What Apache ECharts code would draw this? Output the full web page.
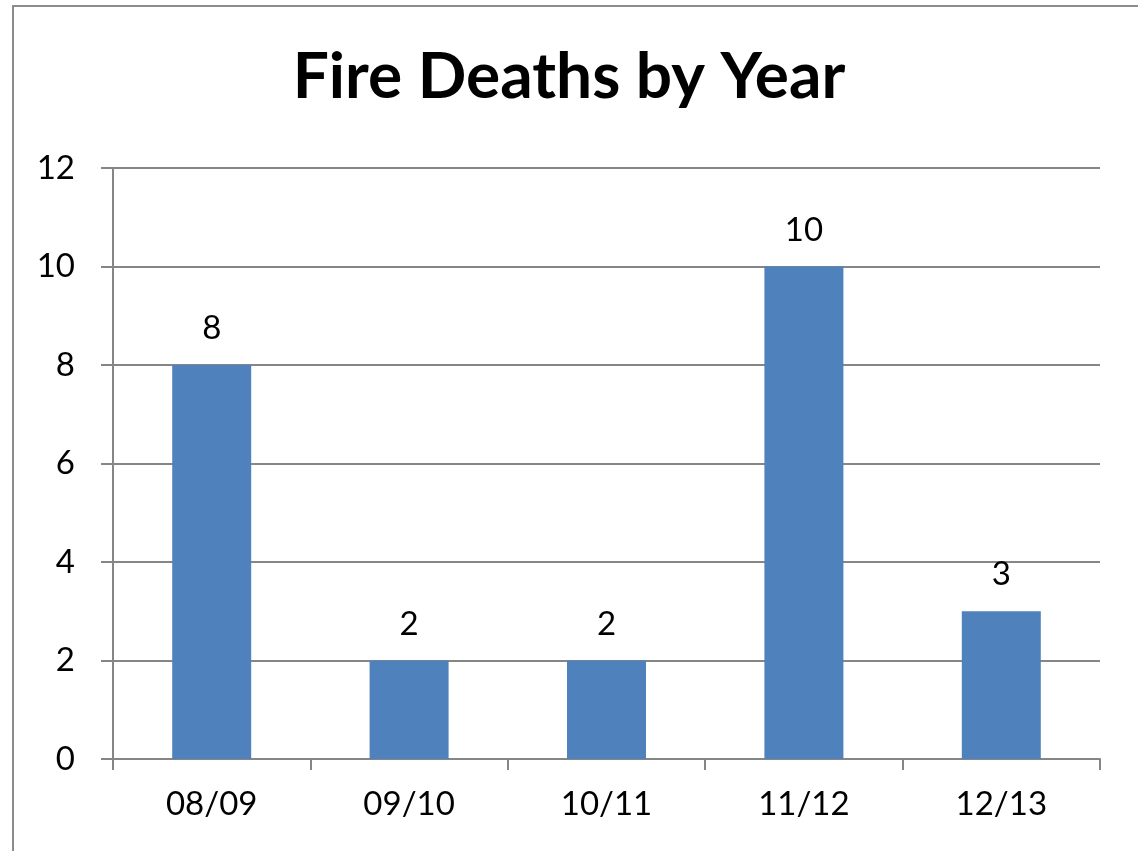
<!DOCTYPE html>
<html>
<head>
<meta charset="utf-8">
<script src="https://cdn.jsdelivr.net/npm/echarts@6/dist/echarts.min.js"></script>
<style>
    html, body { margin: 0; padding: 0; background: #fff; }
    #myChart { width: 1138px; height: 851px; }
</style>
</head>
<body>
<div id="myChart"></div>
<script>
var years = ['08/09', '09/10', '10/11', '11/12', '12/13'];
var deaths = [8, 2, 2, 10, 3];
var yTicks = { min: 0, max: 12, interval: 2 };

var myChart = echarts.init(document.getElementById('myChart'));
var option = {
    backgroundColor: '#fff',
    textStyle: { fontFamily: 'Lato' },
    title: {
        text: 'Fire Deaths by Year',
        left: 'center',
        top: 40,
        textStyle: { fontSize: 64, fontWeight: 'bold', color: '#000', fontFamily: 'Lato' }
    },
    graphic: [{
        type: 'rect',
        shape: { x: 13, y: 6, width: 1300, height: 1000 },
        style: { fill: 'none', stroke: '#8c8c8c', lineWidth: 2 },
        silent: true
    }],
    grid: {
        left: 113,
        right: 38,
        top: 168,
        bottom: 92
    },
    xAxis: {
        type: 'category',
        data: years,
        axisLine: { lineStyle: { color: '#868686', width: 2 } },
        axisTick: { show: true, length: 11, alignWithLabel: false, lineStyle: { color: '#868686', width: 2 } },
        axisLabel: { color: '#000', fontSize: 33, margin: 29 }
    },
    yAxis: {
        type: 'value',
        min: yTicks.min,
        max: yTicks.max,
        interval: yTicks.interval,
        axisLine: { show: true, lineStyle: { color: '#868686', width: 2 } },
        axisTick: { show: true, inside: false, length: 12, lineStyle: { color: '#868686', width: 2 } },
        axisLabel: { color: '#000', fontSize: 33, margin: 38 },
        splitLine: { lineStyle: { color: '#868686', width: 2 } }
    },
    series: [{
        type: 'bar',
        data: deaths,
        barWidth: 79,
        itemStyle: { color: '#4f81bd' },
        label: {
            show: true,
            position: 'top',
            distance: 20,
            color: '#000',
            fontSize: 33
        }
    }]
};
myChart.setOption(option);
</script>
</body>
</html>
